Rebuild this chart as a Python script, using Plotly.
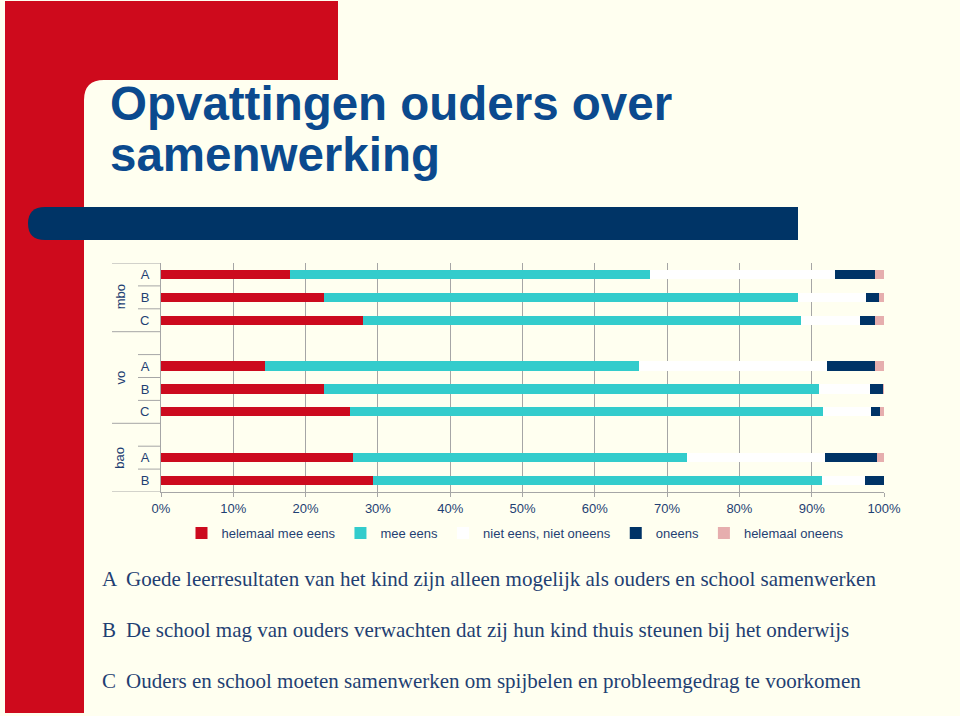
import plotly.graph_objects as go

# ---------------- data ----------------
groups = ["mbo", "vo", "bao"]
group_items = {"mbo": ["A", "B", "C"], "vo": ["A", "B", "C"], "bao": ["A", "B"]}
series_names = ["helemaal mee eens", "mee eens", "niet eens, niet oneens", "oneens", "helemaal oneens"]
helemaal_mee_eens = [17.8, 22.6, 28.0, 14.4, 22.6, 26.1, 26.6, 29.3]
mee_eens = [49.8, 65.5, 60.5, 51.7, 68.4, 65.5, 46.2, 62.1]
neutraal = [25.6, 9.4, 8.2, 26.0, 7.0, 6.6, 19.0, 6.0]
oneens = [5.6, 1.8, 2.1, 6.6, 1.9, 1.2, 7.2, 2.6]
helemaal_oneens = [1.2, 0.7, 1.2, 1.3, 0.1, 0.6, 1.0, 0.0]
x_ticks = [0, 10, 20, 30, 40, 50, 60, 70, 80, 90, 100]
title_lines = ["Opvattingen ouders over", "samenwerking"]
statements = [
    ("A", "Goede leerresultaten van het kind zijn alleen mogelijk als ouders en school samenwerken"),
    ("B", "De school mag van ouders verwachten dat zij hun kind thuis steunen bij het onderwijs"),
    ("C", "Ouders en school moeten samenwerken om spijbelen en probleemgedrag te voorkomen"),
]

# ---------------- styles ----------------
W, H = 960, 716
L, R, T, B = 161, 884, 263, 492
BG = "#FFFFF0"
RED = "#CE0A1C"
NAVY = "#003466"
TXT = "#1F3F73"
colors = ["#CC0A1E", "#33CCCC", "#FFFFFF", "#003366", "#E6AEAE"]
SANS = "Liberation Sans, Arial, sans-serif"
SERIF = "Liberation Serif, Times New Roman, serif"


def px(xp):
    return (xp - L) / (R - L)


def py(yp):
    return (B - yp) / (B - T)


# category rows (with an empty row before each group but the first)
rows = []
for gi, g in enumerate(groups):
    if gi > 0:
        rows.append((g, ""))
    for it in group_items[g]:
        rows.append((g, it))
cat_keys = [f"{g}|{it}" for g, it in rows]
tick_text = [it for g, it in rows]
data_keys = [f"{g}|{it}" for g in groups for it in group_items[g]]

fig = go.Figure()
for name, vals, col in zip(series_names,
                           [helemaal_mee_eens, mee_eens, neutraal, oneens, helemaal_oneens],
                           colors):
    fig.add_trace(go.Bar(
        y=data_keys, x=vals, name=name, orientation="h",
        marker=dict(color=col, line=dict(width=0)), width=0.4,
        hoverinfo="x+name",
    ))

shapes = []
# slide decoration: red corner with rounded inner corner
shapes.append(dict(
    type="path", xref="paper", yref="paper", layer="below",
    path=(f"M {px(5)},{py(1)} L {px(338)},{py(1)} L {px(338)},{py(80)} "
          f"L {px(104)},{py(80)} Q {px(84)},{py(80)} {px(84)},{py(100)} "
          f"L {px(84)},{py(713)} L {px(5)},{py(713)} Z"),
    fillcolor=RED, line=dict(width=0),
))
# navy bar with rounded left end
shapes.append(dict(
    type="path", xref="paper", yref="paper", layer="above",
    path=(f"M {px(45)},{py(207)} L {px(798)},{py(207)} L {px(798)},{py(240)} "
          f"L {px(45)},{py(240)} Q {px(28)},{py(240)} {px(28)},{py(223.5)} "
          f"Q {px(28)},{py(207)} {px(45)},{py(207)} Z"),
    fillcolor=NAVY, line=dict(width=0),
))

# category separators on the left of the y axis
GRID = "#A6A6A6"
idx = 0
for gi, g in enumerate(groups):
    n = len(group_items[g]) + (1 if gi > 0 else 0)
    start = idx - 0.5
    shapes.append(dict(type="line", xref="paper", yref="y", x0=px(112), x1=0,
                       y0=start, y1=start, line=dict(color=GRID, width=1)))
    for k in range(1, n):
        yb = start + k
        shapes.append(dict(type="line", xref="paper", yref="y", x0=px(138), x1=0,
                           y0=yb, y1=yb, line=dict(color=GRID, width=1)))
    idx += n
shapes.append(dict(type="line", xref="paper", yref="y", x0=px(112), x1=0,
                   y0=idx - 0.5, y1=idx - 0.5, line=dict(color=GRID, width=1)))

annotations = []
# group labels
idx = 0
for gi, g in enumerate(groups):
    n = len(group_items[g]) + (1 if gi > 0 else 0)
    center = idx - 0.5 + n / 2
    annotations.append(dict(text=g, xref="paper", yref="y", x=px(120), y=center,
                            showarrow=False, textangle=-90, xanchor="center", yanchor="middle",
                            font=dict(family=SANS, size=13, color=TXT)))
    idx += n

# title
for i, line in enumerate(title_lines):
    annotations.append(dict(text=f"<b>{line}</b>", xref="paper", yref="paper",
                            x=px(108), y=py(103.5 + 51 * i), xanchor="left", yanchor="middle",
                            showarrow=False, font=dict(family=SANS, size=47.5, color="#0B4A8E")))

# statements
for i, (letter, txt) in enumerate(statements):
    yc = 579 + 51 * i
    annotations.append(dict(text=letter, xref="paper", yref="paper", x=px(100), y=py(yc),
                            xanchor="left", yanchor="middle", showarrow=False,
                            font=dict(family=SERIF, size=21, color=TXT)))
    annotations.append(dict(text=txt, xref="paper", yref="paper", x=px(124), y=py(yc),
                            xanchor="left", yanchor="middle", showarrow=False,
                            font=dict(family=SERIF, size=21, color=TXT)))

fig.update_layout(
    width=W, height=H,
    margin=dict(l=L, r=W - R, t=T, b=H - B, pad=0),
    paper_bgcolor=BG, plot_bgcolor=BG,
    barmode="stack", bargap=0.6,
    showlegend=True,
    legend=dict(orientation="h", x=px(515), xanchor="center", y=py(533), yanchor="middle",
                font=dict(family=SANS, size=13, color=TXT), bgcolor="rgba(0,0,0,0)",
                traceorder="normal", itemwidth=30, tracegroupgap=0),
    xaxis=dict(range=[0, 100], tickvals=x_ticks, ticktext=[f"{v}%" for v in x_ticks],
               showgrid=True, gridcolor=GRID, gridwidth=1, zeroline=False,
               showline=True, linecolor=GRID, linewidth=1, mirror=False,
               ticks="outside", ticklen=4, tickcolor=GRID,
               tickfont=dict(family=SANS, size=13, color=TXT), fixedrange=True),
    yaxis=dict(type="category", categoryorder="array", categoryarray=cat_keys,
               tickvals=cat_keys, ticktext=tick_text, range=[len(cat_keys) - 0.5, -0.5],
               showgrid=False, zeroline=False, showline=True, linecolor=GRID, linewidth=1,
               ticks="", ticklabelstandoff=8,
               tickfont=dict(family=SANS, size=13, color=TXT), fixedrange=True),
    shapes=shapes, annotations=annotations,
    font=dict(family=SANS, color=TXT),
)

fig.write_html("out.html")
